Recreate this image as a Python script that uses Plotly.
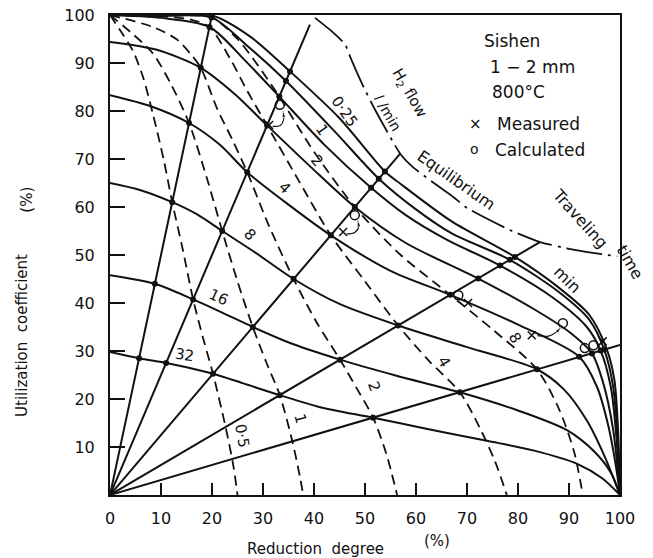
import plotly.graph_objects as go

# ---------------- data ----------------
# H2 flow curves (l/min): reduction degree (%) vs utilization coefficient (%)
flow_labels = ["0·25", "0·5", "1", "2", "4", "8", "16", "32"]
flow_x = [
    [0, 10, 20, 27.5, 35.3, 45, 53.9, 57, 67, 79.4, 88, 94, 97.4, 98.9, 99.6, 100],
    [0, 10, 19.9, 27, 34.5, 44, 52.7, 60, 67, 78.4, 88, 94, 96.9, 98.6, 99.5, 100],
    [0, 10, 19.5, 26.5, 33.2, 42, 51.2, 58, 66, 76.5, 87, 93.5, 96.2, 98.2, 99.3, 100],
    [0, 9, 17.8, 24.5, 30.8, 39.5, 48, 58, 72.2, 83, 90, 94.5, 96.8, 98.6, 99.6, 100],
    [0, 8, 15.5, 21.5, 26.9, 35, 43.3, 55, 66.7, 80, 92, 95.5, 97.8, 99.2, 100],
    [0, 6, 12.2, 17, 22, 28.5, 36, 45, 56.5, 70, 83.7, 89, 93.5, 97, 100],
    [0, 8.8, 16.3, 22, 28, 36, 45.1, 56, 68.6, 80, 89.6, 95, 98.3, 100],
    [0, 5.7, 11, 15, 20.2, 26, 33.3, 41.2, 51.6, 62, 73.9, 83, 91.6, 96.5, 100],
]
flow_y = [
    [100, 100, 99.9, 95.5, 88.25, 78.5, 67.4, 64.8, 57, 49.6, 43.2, 37.5, 30.4, 24, 14, 0],
    [100, 99.8, 99.5, 93.5, 86.25, 75.8, 65.9, 59.5, 54.5, 49, 42.3, 36.5, 30.3, 23, 12.5, 0],
    [100, 99.4, 97.5, 90.5, 83, 73, 64, 58.3, 53.2, 47.8, 41, 35, 30.1, 22.5, 12, 0],
    [94.4, 92.8, 89, 83.5, 77, 68.2, 60, 52.5, 45.1, 38.8, 34, 29.5, 23, 14, 5, 0],
    [83.3, 81, 77.5, 73, 67.25, 60.5, 54.1, 46.7, 41.7, 35.5, 28.8, 22.5, 14, 6, 0],
    [65, 63.5, 61, 58.5, 55, 50.5, 45, 39.8, 35.3, 30.8, 26.2, 22, 15.5, 8, 0],
    [45.8, 44, 40.75, 38, 35, 31.4, 28.2, 24.9, 21.4, 17.6, 13.5, 9, 4.5, 0],
    [29.8, 28.5, 27.5, 26.6, 25.25, 23.3, 20.8, 18.3, 16.1, 13.8, 11.3, 9.3, 6.5, 3.5, 0],
]

# traveling time curves (min), dashed
time_labels = ["0·5", "1", "2", "4", "8"]
time_x = [
    [0, 2.5, 4.5, 6.5, 8.5, 10.5, 12.2, 14.3, 16.3, 18.3, 20.2, 22.7, 24.2, 25],
    [0, 4.5, 8.4, 12, 15.5, 19, 22, 25, 28, 30.7, 33.3, 35.8, 37.2, 37.9],
    [0, 8.4, 13, 15.7, 17.8, 21, 24, 26.9, 31, 36, 40.5, 45.1, 48.5, 51.6, 54.2, 56.3],
    [0, 10, 16, 19.5, 23.5, 27, 30.8, 37, 43.3, 50, 56.5, 62.5, 68.6, 72.5, 75.5, 77.8],
    [0, 12, 19.9, 25, 29, 33.2, 40, 48, 57, 66.7, 75, 83.7, 88, 91, 92.7],
]
time_y = [
    [100, 96, 92.5, 87, 79, 70, 61, 51, 40.75, 32.5, 25.25, 14, 6, 0],
    [100, 96, 92, 85.5, 77.5, 66, 55, 44.5, 35, 27.5, 20.8, 11, 4, 0],
    [100, 97.5, 95, 92, 89, 80.5, 74, 67.25, 56.5, 45, 36, 28.2, 22, 16.1, 8.5, 0],
    [100, 99.7, 99, 97.5, 91, 84, 77, 65.5, 54.1, 44.5, 35.3, 28, 21.4, 14, 7, 0],
    [100, 99.9, 99.5, 95, 89.5, 83, 71.5, 60, 50, 41.7, 34.5, 26.2, 18, 9, 0],
]

# straight lines of constant H2 supply through the origin (end points)
radial_end_x = [20, 39.2, 56.9, 84.3, 100]
radial_end_y = [100, 98, 71.1, 52.7, 31.25]

# equilibrium line
eq_x = [40.2, 43.5, 46.1, 47.2, 49.5, 52, 56.9, 59.4, 63.5, 67.3, 70, 78.4, 84.3, 90, 95, 99.5]
eq_y = [99.4, 96.6, 93.9, 91.0, 85.5, 80.2, 71.1, 68.3, 65, 62.1, 59.8, 55.2, 52.7, 51.3, 50.4, 49.7]

# intersection dots
dot_x = [5.7, 8.8, 12.2, 15.5, 17.8, 19.5, 19.9,
         11, 16.3, 22, 26.9, 30.8, 33.2, 34.5, 35.3,
         20.2, 28, 36, 43.3, 48, 51.2, 52.7, 53.9,
         33.3, 45.1, 56.5, 66.7, 72.2, 76.5, 78.4, 79.4,
         51.6, 68.6, 83.7, 92, 94.5, 96.2, 96.9]
dot_y = [28.5, 44, 61, 77.5, 89, 97.5, 99.5,
         27.5, 40.75, 55, 67.25, 77, 83, 86.25, 88.25,
         25.25, 35, 45, 54.1, 60, 64, 65.9, 67.4,
         20.8, 28.2, 35.3, 41.7, 45.1, 47.8, 49, 49.6,
         16.1, 21.4, 26.2, 28.8, 29.5, 30.1, 30.3]

# measured and calculated points
meas_x = [31.2, 45.7, 70.2, 82.7, 96.6]
meas_y = [77.1, 54.8, 40.0, 33.3, 32.0]
calc_x = [33.3, 48.0, 68.3, 88.8, 93.1, 94.8]
calc_y = [81.3, 58.3, 41.6, 35.8, 30.6, 31.2]
arrow_paths = [
    ([31.9, 33.4, 34.1, 33.9], [76.8, 77.0, 78.6, 80.0]),
    ([46.4, 48.0, 48.8, 48.5], [54.4, 54.7, 56.0, 57.2]),
    ([83.8, 86.0, 87.8, 88.4], [33.2, 33.1, 34.2, 35.0]),
]

# text labels
flow_lab_x = [45.9, 41.6, 40.6, 34.3, 27.5, 21.2, 14.7]
flow_lab_y = [80.0, 76.0, 69.6, 64.0, 54.2, 41.25, 29.2]
flow_lab_t = ["0·25", "1", "2", "4", "8", "16", "32"]
flow_lab_a = [55, 55, 50, 45, 45, 25, 8]
time_lab_x = [25.9, 37.3, 51.8, 65.5, 79.4]
time_lab_y = [12.3, 15.8, 22.5, 27.7, 32.7]
time_lab_a = [80, 75, 70, 60, 60]

x_ticks = [0, 10, 20, 30, 40, 50, 60, 70, 80, 90, 100]
y_ticks = [10, 20, 30, 40, 50, 60, 70, 80, 90, 100]

FONT = "DejaVu Sans"
BLACK = "#111111"

fig = go.Figure()

# flow curves
for xs, ys in zip(flow_x, flow_y):
    fig.add_trace(go.Scatter(x=xs, y=ys, mode="lines",
                             line=dict(color=BLACK, width=2, shape="spline", smoothing=0.8),
                             hoverinfo="skip", showlegend=False))
# time curves
for xs, ys in zip(time_x, time_y):
    fig.add_trace(go.Scatter(x=xs, y=ys, mode="lines",
                             line=dict(color=BLACK, width=1.8, dash="10px,6px",
                                       shape="spline", smoothing=0.8),
                             hoverinfo="skip", showlegend=False))
# radial lines
for xe, ye in zip(radial_end_x, radial_end_y):
    fig.add_trace(go.Scatter(x=[0, xe], y=[0, ye], mode="lines",
                             line=dict(color=BLACK, width=2),
                             hoverinfo="skip", showlegend=False))
# equilibrium
fig.add_trace(go.Scatter(x=eq_x, y=eq_y, mode="lines",
                         line=dict(color=BLACK, width=1.8, dash="36px,6px,3px,6px",
                                   shape="spline", smoothing=0.5),
                         hoverinfo="skip", showlegend=False))
# dots
fig.add_trace(go.Scatter(x=dot_x, y=dot_y, mode="markers",
                         marker=dict(color=BLACK, size=6),
                         hoverinfo="skip", showlegend=False))
# measured / calculated
fig.add_trace(go.Scatter(x=meas_x, y=meas_y, mode="markers",
                         marker=dict(symbol="x-thin", size=8, line=dict(color=BLACK, width=1.5)),
                         hoverinfo="skip", showlegend=False))
fig.add_trace(go.Scatter(x=calc_x, y=calc_y, mode="markers",
                         marker=dict(symbol="circle-open", size=9, color=BLACK,
                                     line=dict(color=BLACK, width=1.5)),
                         hoverinfo="skip", showlegend=False))
for ax_, ay_ in arrow_paths:
    n = len(ax_)
    fig.add_trace(go.Scatter(x=ax_, y=ay_, mode="lines+markers",
                             line=dict(color=BLACK, width=1.2, shape="spline"),
                             marker=dict(symbol=["circle"] * (n - 1) + ["arrow"],
                                         size=[0] * (n - 1) + [7], color=BLACK,
                                         angleref="previous"),
                             hoverinfo="skip", showlegend=False))

ann = []
def txt(x, y, t, size=15, angle=0, xanchor="center", xref="x", yref="y"):
    ann.append(dict(x=x, y=y, xref=xref, yref=yref, text=t, showarrow=False,
                    textangle=angle, xanchor=xanchor, yanchor="middle",
                    font=dict(family=FONT, size=size, color=BLACK)))

for x, y, t, a in zip(flow_lab_x, flow_lab_y, flow_lab_t, flow_lab_a):
    txt(x, y, t, 15, a)
for x, y, t, a in zip(time_lab_x, time_lab_y, time_labels, time_lab_a):
    txt(x, y, t, 15, a)

txt(58.8, 83.75, "H<sub>2</sub> flow", 15, 60)
txt(54.5, 79.6, "<i>l</i> /min", 14, 60)
txt(68.0, 65.6, "Equilibrium", 16, 35)
txt(92.2, 57.7, "Traveling", 16, 48)
txt(1.02, 0.485, "time", 16, 60, "center", "paper", "paper")
txt(89.6, 44.8, "min", 16, 45)

txt(72.9, 94.6, "Sishen", 17, 0, "left")
txt(74.1, 89.2, "1 − 2 mm", 17, 0, "left")
txt(74.5, 84.0, "800°C", 17, 0, "left")
txt(71.6, 77.3, "×", 15, 0)
txt(75.5, 77.3, "Measured", 17, 0, "left")
txt(71.4, 72.0, "o", 14, 0)
txt(75.1, 71.8, "Calculated", 17, 0, "left")

# axis titles (paper coordinates)
txt(0.402, -0.113, "Reduction  degree", 15, 0, "center", "paper", "paper")
txt(0.641, -0.096, "(%)", 15, 0, "center", "paper", "paper")
txt(-0.173, 0.333, "Utilization  coefficient", 15, -90, "center", "paper", "paper")
txt(-0.163, 0.615, "(%)", 15, -90, "center", "paper", "paper")

# the page body adds an 8 px offset, so the figure is 8 px smaller on each side
fig.update_layout(
    width=645, height=550,
    margin=dict(l=102, r=33, t=7, b=63, autoexpand=False),
    paper_bgcolor="white", plot_bgcolor="white",
    annotations=ann,
    xaxis=dict(range=[0, 100], tickvals=x_ticks, ticks="inside", ticklen=12,
               tickwidth=1.5, tickcolor=BLACK, showline=True, linewidth=2,
               linecolor=BLACK, mirror=True, showgrid=False, zeroline=False,
               automargin=False, ticklabeloverflow="allow",
               tickfont=dict(family=FONT, size=16, color=BLACK), ticklabelstandoff=8),
    yaxis=dict(range=[0, 100], tickvals=y_ticks, ticks="inside", ticklen=15,
               tickwidth=1.5, tickcolor=BLACK, showline=True, linewidth=2,
               linecolor=BLACK, mirror=True, showgrid=False, zeroline=False,
               automargin=False, ticklabeloverflow="allow",
               tickfont=dict(family=FONT, size=16, color=BLACK), ticklabelstandoff=10),
)

fig.write_html("out.html")
